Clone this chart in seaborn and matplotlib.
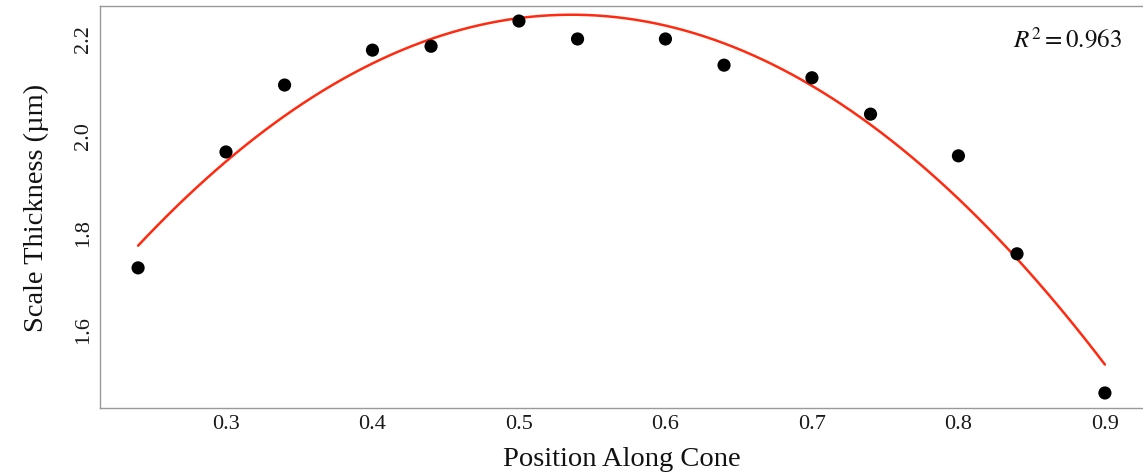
import numpy as np
import pandas as pd
import seaborn as sns
from matplotlib import pyplot as plt

position = [0.24, 0.30, 0.34, 0.40, 0.44, 0.50, 0.54, 0.60, 0.64, 0.70, 0.74, 0.80, 0.84, 0.90]
thickness = [1.726, 1.965, 2.103, 2.175, 2.183, 2.235, 2.198, 2.198, 2.144, 2.118, 2.043, 1.957, 1.755, 1.468]
xticks = [0.3, 0.4, 0.5, 0.6, 0.7, 0.8, 0.9]
yticks = [1.6, 1.8, 2.0, 2.2]
r2_text = "$R^2 = 0.963$"

sns.set_style("white")
plt.rcParams['font.family'] = ['Liberation Serif', 'DejaVu Serif']
plt.rcParams['mathtext.fontset'] = 'stix'

df = pd.DataFrame({"pos": position, "thick": thickness})

fig = plt.figure(figsize=(11.43, 4.77), dpi=100)
ax = fig.add_axes([100 / 1143, 1 - 409 / 477, 1 - 100 / 1143, 402 / 477])

sns.regplot(data=df, x="pos", y="thick", order=2, ci=None, ax=ax,
            scatter_kws=dict(color="black", s=90, alpha=1, edgecolor="none", zorder=3),
            line_kws=dict(color="#ff2a10", lw=1.8))

ax.set_xlim(0.214, 0.926)
ax.set_ylim(1.437, 2.266)
ax.set_xticks(xticks)
ax.set_xticklabels([str(t) for t in xticks])
ax.set_yticks(yticks)
ax.set_yticklabels([str(t) for t in yticks], rotation=90, va="center")
ax.tick_params(axis="both", labelsize=16, length=3, color="#888888",
               labelcolor="#1a1a1a", direction="in", pad=4)
ax.tick_params(axis="y", pad=5)

for side in ["left", "bottom", "top"]:
    ax.spines[side].set_visible(True)
    ax.spines[side].set_color("#999999")
    ax.spines[side].set_linewidth(1.0)
ax.spines["right"].set_visible(False)

ax.set_xlabel("Position Along Cone", fontsize=20.5, labelpad=10, color="#111111")
ax.set_ylabel("Scale Thickness (µm)", fontsize=20.5, labelpad=18, color="#111111")

ax.text(0.980, 0.92, r2_text, transform=ax.transAxes, ha="right", va="center",
        fontsize=18, color="#111111")

fig.savefig("out.png", dpi=100)
